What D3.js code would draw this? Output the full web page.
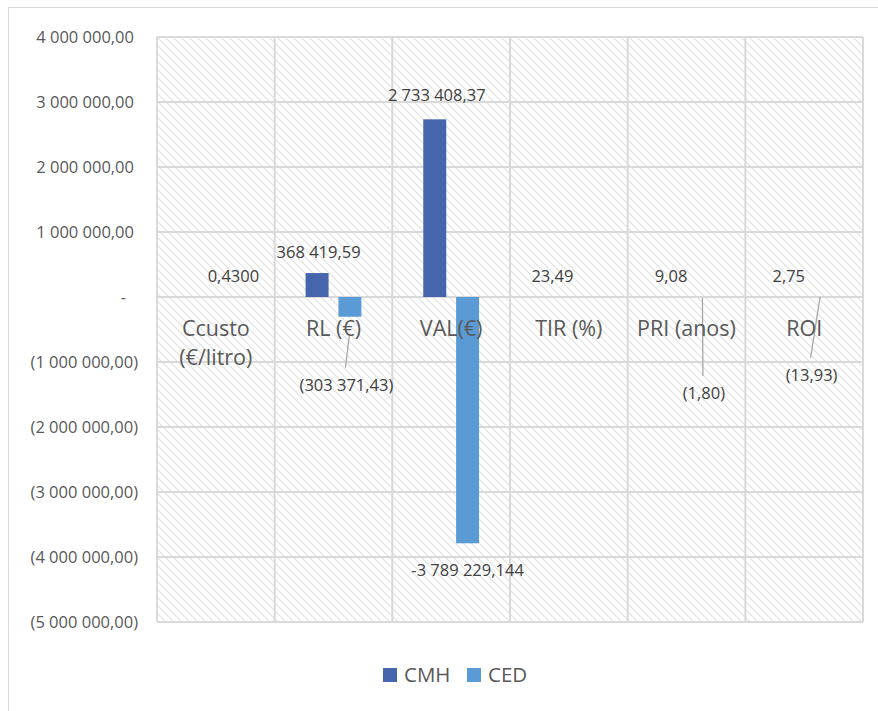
<!DOCTYPE html>
<html>
<head>
<meta charset="utf-8">
<script src="https://cdn.jsdelivr.net/npm/d3@7"></script>
<style>
  body { margin: 0; background: #fff; }
  svg { display: block; font-family: "Open Sans", sans-serif; }
</style>
</head>
<body>
<div id="chart"></div>
<script>
// ── data ──
const categories = ["Ccusto\n(€/litro)", "RL (€)", "VAL(€)", "TIR (%)", "PRI (anos)", "ROI"];
const series = ["CMH", "CED"];
const cmhValues = [0.43, 368419.59, 2733408.37, 23.49, 9.08, 2.75];
const cedValues = [null, -303371.43, -3789229.144, null, -1.8, -13.93];
const cmhLabels = ["0,4300", "368 419,59", "2 733 408,37", "23,49", "9,08", "2,75"];
const cedLabels = [null, "(303 371,43)", "-3 789 229,144", null, "(1,80)", "(13,93)"];
const tickValues = [4000000, 3000000, 2000000, 1000000, 0, -1000000, -2000000, -3000000, -4000000, -5000000];

// hand-moved data labels (dx, dy from the bar end), like in the sheet
const cmhLabelNudge = [[34, -21], [1.5, -21], [2, -24], [0, -21], [1, -21], [1, -21]];
const cedLabelNudge = [null, [-3.5, 68], [0, 27], null, [1, 96], [-9, 78]];
const cedLeaderGap = [null, 18, null, null, 1, 0];

const colors = { CMH: "#4565ad", CED: "#5b9bd5" };
const textColor = "#595959";
const gridColor = "#d9d9d9";

const width = 878;
const height = 711;
const plot = { left: 157, right: 863, top: 37, bottom: 622 };

const svg = d3.select("#chart").append("svg")
  .attr("width", width)
  .attr("height", height);

// chart frame
svg.append("rect")
  .attr("x", 8.5).attr("y", 7.5)
  .attr("width", 1000).attr("height", 1000)
  .attr("fill", "none")
  .attr("stroke", gridColor)
  .attr("stroke-width", 1);

// hatch fill for the plot area
const defs = svg.append("defs");
const pat = defs.append("pattern")
  .attr("id", "hatch")
  .attr("patternUnits", "userSpaceOnUse")
  .attr("width", 8).attr("height", 8);
pat.append("rect").attr("width", 8).attr("height", 8).attr("fill", "#fff");
pat.append("path")
  .attr("d", "M-2,-2L10,10M-2,6L2,10M6,-2L10,2")
  .attr("stroke", "#e0e0e0")
  .attr("stroke-width", 1.1);

// ── scales ──
const x0 = d3.scaleBand()
  .domain(categories)
  .range([plot.left, plot.right])
  .padding(0);

const x1 = d3.scaleBand()
  .domain(series)
  .range([x0.bandwidth() * 0.263, x0.bandwidth() * 0.737])
  .paddingInner(0.3);

const y = d3.scaleLinear()
  .domain([-5000000, 4000000])
  .range([plot.bottom, plot.top]);

svg.append("rect")
  .attr("x", plot.left).attr("y", plot.top)
  .attr("width", plot.right - plot.left)
  .attr("height", plot.bottom - plot.top)
  .attr("fill", "url(#hatch)");

// gridlines
const grid = svg.append("g")
  .attr("stroke", gridColor)
  .attr("stroke-width", 2);

grid.selectAll("line.h")
  .data(tickValues)
  .enter()
  .append("line")
  .attr("x1", plot.left).attr("x2", plot.right)
  .attr("y1", (d) => y(d)).attr("y2", (d) => y(d));

grid.selectAll("line.v")
  .data(categories.map((c) => x0(c)).concat([plot.right]))
  .enter()
  .append("line")
  .attr("x1", (d) => d).attr("x2", (d) => d)
  .attr("y1", plot.top).attr("y2", plot.bottom);

// y axis labels (accounting style)
const locale = d3.formatLocale({ decimal: ",", thousands: "\u00a0", grouping: [3], currency: ["", ""] });
const fmt = locale.format(",.2f");

svg.append("g")
  .selectAll("text")
  .data(tickValues)
  .enter()
  .append("text")
  .attr("x", (d) => (d < 0 ? 138 : d === 0 ? 126 : 134))
  .attr("y", (d) => y(d))
  .attr("dy", "0.36em")
  .attr("text-anchor", "end")
  .attr("fill", textColor)
  .style("font-size", "16.5px")
  .text((d) => (d === 0 ? "-" : d < 0 ? `(${fmt(-d)})` : fmt(d)));

// ── bars ──
const rows = categories.map((c, i) => ({
  cat: c,
  values: [
    { s: "CMH", v: cmhValues[i], label: cmhLabels[i], nudge: cmhLabelNudge[i], gap: null },
    { s: "CED", v: cedValues[i], label: cedLabels[i], nudge: cedLabelNudge[i], gap: cedLeaderGap[i] },
  ].filter((d) => d.v !== null),
}));

const groups = svg.append("g")
  .selectAll("g")
  .data(rows)
  .enter()
  .append("g")
  .attr("transform", (d) => `translate(${x0(d.cat)},0)`);

groups.selectAll("rect")
  .data((d) => d.values)
  .enter()
  .append("rect")
  .attr("x", (d) => x1(d.s))
  .attr("width", x1.bandwidth())
  .attr("y", (d) => y(Math.max(d.v, 0)))
  .attr("height", (d) => Math.abs(y(d.v) - y(0)))
  .attr("fill", (d) => colors[d.s]);

// leader lines
groups.selectAll("line")
  .data((d) => d.values.filter((v) => v.gap !== null && v.label))
  .enter()
  .append("line")
  .attr("x1", (d) => x1(d.s) + x1.bandwidth() / 2 - 0.5)
  .attr("y1", (d) => y(Math.min(d.v, 0)) + d.gap)
  .attr("x2", (d) => x1(d.s) + x1.bandwidth() / 2 + d.nudge[0] - 1)
  .attr("y2", (d) => y(d.v) + d.nudge[1] - 17)
  .attr("stroke", "#a6a6a6")
  .attr("stroke-width", 1.3);

// data labels
groups.selectAll("text")
  .data((d) => d.values.filter((v) => v.label))
  .enter()
  .append("text")
  .attr("x", (d) => x1(d.s) + x1.bandwidth() / 2 + d.nudge[0])
  .attr("y", (d) => y(d.v) + d.nudge[1])
  .attr("dy", "0.36em")
  .attr("text-anchor", "middle")
  .attr("fill", "#404040")
  .style("font-size", "16.5px")
  .text((d) => d.label);

// category labels, sitting just under the zero line
const catText = svg.append("g")
  .selectAll("text")
  .data(categories)
  .enter()
  .append("text")
  .attr("x", (d) => x0(d) + x0.bandwidth() / 2)
  .attr("y", y(0) + 31)
  .attr("dy", "0.36em")
  .attr("text-anchor", "middle")
  .attr("fill", textColor)
  .style("font-size", "21.5px");

catText.each(function (d) {
  const lines = d.split("\n");
  const t = d3.select(this);
  lines.forEach((line, i) => {
    t.append("tspan")
      .attr("x", x0(d) + x0.bandwidth() / 2)
      .attr("dy", i === 0 ? "0.36em" : "29px")
      .text(line);
  });
});

// ── legend ──
const legendX = [383, 467];
const legend = svg.append("g")
  .selectAll("g")
  .data(series)
  .enter()
  .append("g")
  .attr("transform", (d, i) => `translate(${legendX[i]},668)`);

legend.append("rect")
  .attr("width", 14).attr("height", 14)
  .attr("fill", (d) => colors[d]);

legend.append("text")
  .attr("x", 21)
  .attr("y", 7)
  .attr("dy", "0.36em")
  .attr("fill", textColor)
  .style("font-size", "20.5px")
  .text((d) => d);
</script>
</body>
</html>
